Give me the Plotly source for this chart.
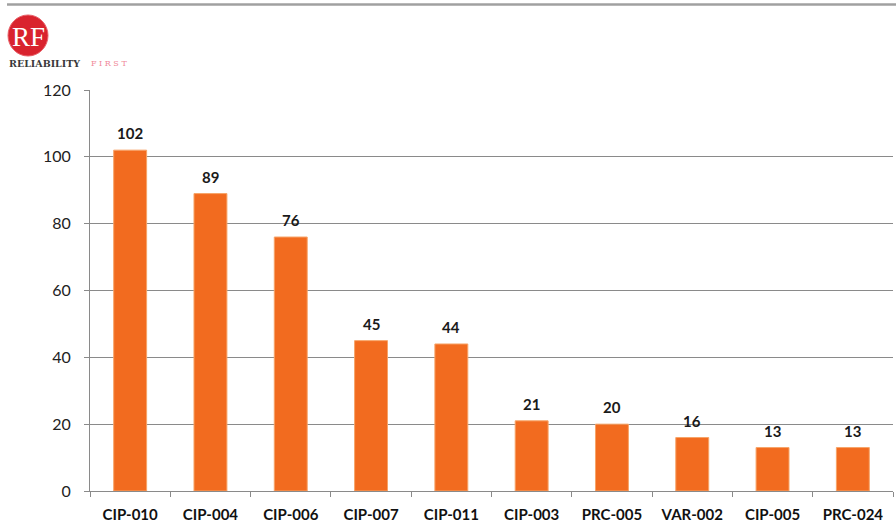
import plotly.graph_objects as go

# Violation counts per reliability standard
standards = ["CIP-010", "CIP-004", "CIP-006", "CIP-007", "CIP-011",
             "CIP-003", "PRC-005", "VAR-002", "CIP-005", "PRC-024"]
counts = [102, 89, 76, 45, 44, 21, 20, 16, 13, 13]
y_ticks = [0, 20, 40, 60, 80, 100, 120]

W, H = 896, 529
L, R, T, B = 90, 3, 90, 38
pw, ph = W - L - R, H - T - B


def px_x(x):
    return (x - L) / pw


def px_y(y):
    return (H - B - y) / ph


bar_color = "#F26B1F"
font_family = "Lato, 'Open Sans', Arial, sans-serif"

fig = go.Figure(
    go.Bar(
        x=standards,
        y=counts,
        width=0.41,
        marker=dict(color=bar_color, line=dict(color="#F7A468", width=1)),
        cliponaxis=False,
    )
)

# Value labels above each bar
for s, v in zip(standards, counts):
    fig.add_annotation(x=s, y=v, text=f"<b>{v}</b>", showarrow=False,
                       yanchor="bottom", yshift=6,
                       font=dict(family=font_family, size=15, color="#1a1a1a"))

fig.update_layout(
    width=W,
    height=H,
    margin=dict(l=L, r=R, t=T, b=B),
    paper_bgcolor="white",
    plot_bgcolor="white",
    showlegend=False,
    bargap=0.59,
    font=dict(family=font_family, color="#222"),
)

fig.update_xaxes(
    showline=True, linecolor="#8a8a8a", linewidth=1,
    ticks="outside", tickson="boundaries", ticklen=5, tickcolor="#8a8a8a",
    tickfont=dict(size=15, color="#111", weight="bold"),
    ticklabelstandoff=10,
    showgrid=False,
)
fig.update_yaxes(
    range=[0, 120], tickvals=y_ticks,
    showline=True, linecolor="#8a8a8a", linewidth=1,
    ticks="outside", ticklen=5, tickcolor="#8a8a8a",
    tickfont=dict(size=16, color="#222"),
    ticklabelstandoff=10,
    showgrid=True, gridcolor="#8a8a8a", gridwidth=1,
    zeroline=False,
)

# Header rule across the top
fig.add_shape(type="line", xref="paper", yref="paper",
              x0=px_x(7), x1=px_x(896), y0=px_y(4.5), y1=px_y(4.5),
              line=dict(color="#a0a0a0", width=2.5))

# Logo: red disc with RF monogram and wordmark
fig.add_shape(type="circle", xref="paper", yref="paper",
              x0=px_x(8), x1=px_x(48), y0=px_y(56), y1=px_y(15),
              fillcolor="#D9232E", line=dict(color="#E86068", width=1))
fig.add_annotation(xref="paper", yref="paper", x=px_x(28.5), y=px_y(37),
                   text="RF", showarrow=False, xanchor="center", yanchor="middle",
                   font=dict(family="Liberation Serif, serif", size=27, color="white"))
fig.add_annotation(xref="paper", yref="paper", x=px_x(7), y=px_y(63),
                   text="<b>RELIABILITY</b>", showarrow=False,
                   xanchor="left", yanchor="middle",
                   font=dict(family="DejaVu Serif, serif", size=9.5, color="#3a3a3a"))
fig.add_annotation(xref="paper", yref="paper", x=px_x(89), y=px_y(63),
                   text="F I R S T", showarrow=False,
                   xanchor="left", yanchor="middle",
                   font=dict(family="DejaVu Serif, serif", size=8, color="#F08A9A"))

fig.write_html("out.html")
